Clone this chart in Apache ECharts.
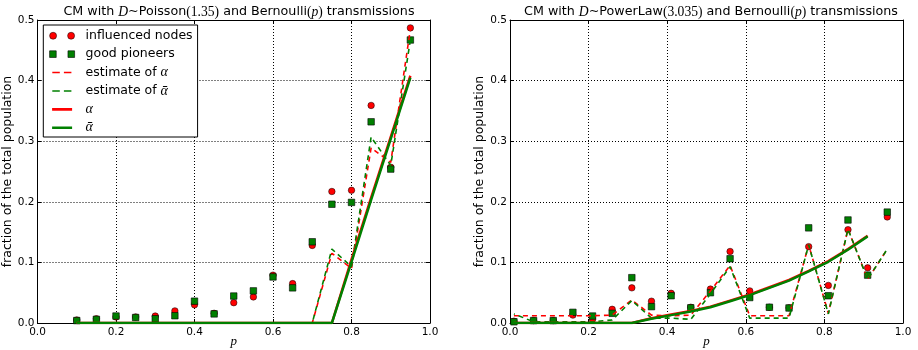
<!DOCTYPE html>
<html><head><meta charset="utf-8">
<script src="https://cdn.jsdelivr.net/npm/echarts@6/dist/echarts.min.js"></script>
<style>html,body{margin:0;padding:0;background:#fff}#c{width:918px;height:350px}</style>
</head><body><div id="c"></div>
<script>
// ---------- data ----------
const pLeft = [0.10,0.15,0.20,0.25,0.30,0.35,0.40,0.45,0.50,0.55,0.60,0.65,0.70,0.75,0.80,0.85,0.90,0.95];
const influencedLeft = [0.005,0.007,0.010,0.010,0.0115,0.020,0.030,0.016,0.0335,0.043,0.079,0.065,0.128,0.217,0.219,0.359,0.257,0.487];
const pioneersLeft   = [0.004,0.006,0.0115,0.009,0.007,0.012,0.036,0.015,0.0445,0.053,0.076,0.058,0.134,0.196,0.199,0.332,0.254,0.467];
const estAlphaLeft    = [0,0,0,0,0,0,0,0,0,0,0,0,0,0.115,0.090,0.289,0.265,0.485];
const estAlphaBarLeft = [0,0,0,0,0,0,0,0,0,0,0,0,0,0.122,0.093,0.307,0.260,0.467];
const alphaLeft    = [0,0,0,0,0,0,0,0,0,0,0,0,0,0,0.105,0.207,0.307,0.408];
const alphaBarLeft = [0,0,0,0,0,0,0,0,0,0,0,0,0,0,0.101,0.203,0.304,0.405];

const pRight = [0.01,0.06,0.11,0.16,0.21,0.26,0.31,0.36,0.41,0.46,0.51,0.56,0.61,0.66,0.71,0.76,0.81,0.86,0.91,0.96];
const influencedRight = [0.003,0.004,0.004,0.013,0.006,0.0226,0.058,0.036,0.049,0.026,0.056,0.118,0.053,0.026,0.025,0.126,0.062,0.154,0.091,0.175];
const pioneersRight   = [0.002,0.004,0.004,0.0176,0.0115,0.016,0.0748,0.027,0.045,0.025,0.050,0.106,0.042,0.026,0.0248,0.157,0.045,0.170,0.079,0.183];
const estAlphaRight    = [0.012,0.012,0.012,0.012,0.012,0.013,0.038,0.013,0.012,0.013,0.053,0.095,0.012,0.012,0.012,0.129,0.016,0.155,0.072,0.122];
const estAlphaBarRight = [0.015,0.002,0.002,0.002,0.002,0.005,0.037,0.008,0.008,0.006,0.048,0.093,0.008,0.008,0.008,0.129,0.015,0.155,0.072,0.122];
const alphaRight    = [0,0,0,0,0,0,0,0.008,0.014,0.020,0.027,0.037,0.047,0.059,0.071,0.086,0.102,0.122,0.144];
const alphaBarRight = [0,0,0,0,0,0,0,0.007,0.013,0.019,0.026,0.036,0.046,0.058,0.070,0.085,0.101,0.121,0.143];

const xTicks = [0.0,0.2,0.4,0.6,0.8,1.0];
const yTicks = [0.0,0.1,0.2,0.3,0.4,0.5];
const names = ['influenced nodes','good pioneers','estimate of α','estimate of ᾱ','α','ᾱ'];

// ---------- helpers ----------
const RED = '#ff0000', GREEN = '#008000';
const sans = 'DejaVu Sans';
const serif = 'Liberation Serif';
function pairs(xs, ys){ return ys.map((v,i)=>[xs[i], v]); }

function axesFor(g){
  const common = {min:0, max:1, interval:0.2, gridIndex:g,
    axisLine:{show:true, onZero:false, lineStyle:{color:'#000', width:1}},
    axisTick:{show:true, inside:true, length:4, lineStyle:{color:'#000'}}};
  const x = [
    Object.assign({}, common, {type:'value', position:'bottom',
      axisLabel:{show:true, color:'#000', fontFamily:sans, fontSize:10.5, margin:4,
        showMinLabel:true, showMaxLabel:true, formatter:v=>v.toFixed(1)},
      splitLine:{show:true, lineStyle:{color:'#000', type:[1,2], width:1}},
      name:'p', nameLocation:'middle', nameGap:12, nameMoveOverlap:false,
      nameTextStyle:{fontFamily:serif, fontStyle:'italic', fontSize:13, color:'#000'}}),
    Object.assign({}, common, {type:'value', position:'top', axisLabel:{show:false}, splitLine:{show:false}})
  ];
  const ycommon = Object.assign({}, common, {max:0.5, interval:0.1});
  const y = [
    Object.assign({}, ycommon, {type:'value', position:'left',
      axisLabel:{show:true, color:'#000', fontFamily:sans, fontSize:10.5, margin:3,
        showMinLabel:true, showMaxLabel:true, formatter:v=>v.toFixed(1)},
      splitLine:{show:true, lineStyle:{color:'#000', type:[1,2], width:1}},
      name:'fraction of the total population', nameLocation:'middle', nameGap:22,
      nameTextStyle:{fontFamily:sans, fontSize:12.5, color:'#000'}}),
    Object.assign({}, ycommon, {type:'value', position:'right', axisLabel:{show:false}, splitLine:{show:false}})
  ];
  return {x, y};
}

const a0 = axesFor(0), a1 = axesFor(1);

function seriesFor(g, xs, xsA, inf, pio, estA, estB, al, alb){
  const xi = g*2, yi = g*2;
  return [
    {name:names[0], type:'scatter', xAxisIndex:xi, yAxisIndex:yi, symbol:'circle', symbolSize:6.5,
     itemStyle:{color:RED, borderColor:'#000', borderWidth:0.5, opacity:1}, data:pairs(xs, inf), z:2},
    {name:names[1], type:'scatter', xAxisIndex:xi, yAxisIndex:yi, symbol:'rect', symbolSize:6.5,
     itemStyle:{color:GREEN, borderColor:'#000', borderWidth:0.6, opacity:1}, data:pairs(xs, pio), z:3},
    {name:names[2], type:'line', xAxisIndex:xi, yAxisIndex:yi, showSymbol:false, symbol:'none',
     lineStyle:{color:RED, width:1.6, type:[5,4]}, itemStyle:{color:RED}, data:pairs(xs, estA), z:4, animation:false},
    {name:names[3], type:'line', xAxisIndex:xi, yAxisIndex:yi, showSymbol:false, symbol:'none',
     lineStyle:{color:GREEN, width:1.6, type:[5,4], dashOffset:4}, itemStyle:{color:GREEN}, data:pairs(xs, estB), z:5, animation:false},
    {name:names[4], type:'line', xAxisIndex:xi, yAxisIndex:yi, showSymbol:false, symbol:'none',
     lineStyle:{color:RED, width:2.5}, itemStyle:{color:RED}, data:pairs(xsA, al), z:6, animation:false},
    {name:names[5], type:'line', xAxisIndex:xi, yAxisIndex:yi, showSymbol:false, symbol:'none',
     lineStyle:{color:GREEN, width:2.5}, itemStyle:{color:GREEN}, data:pairs(xsA, alb), z:7, animation:false}
  ];
}

const circlesIcon = 'path://M0,3.5a3.5,3.5 0 1,0 7,0a3.5,3.5 0 1,0 -7,0zM18,3.5a3.5,3.5 0 1,0 7,0a3.5,3.5 0 1,0 -7,0z';
const squaresIcon = 'path://M0.25,0.25h6.5v6.5h-6.5zM18.25,0.25h6.5v6.5h-6.5z';
const dashIcon = 'path://M0,0L25,0M0,7L25,7M2.7,2.7h7.5v1.6h-7.5zM14.3,2.7h7.5v1.6h-7.5z';
const solidIcon = 'path://M0,0L25,0M0,7L25,7M2.5,2.2h20v2.6h-20z';

const titleRich = {
  a:{fontFamily:sans, fontSize:12.7, fontWeight:'normal', color:'#000'},
  i:{fontFamily:serif, fontStyle:'italic', fontWeight:'normal', fontSize:13.6, color:'#000'},
  m:{fontFamily:serif, fontWeight:'normal', fontSize:13.6, color:'#000'}
};
const legendRich = {
  a:{fontFamily:sans, fontSize:12.5, color:'#000'},
  i:{fontFamily:serif, fontStyle:'italic', fontSize:14, color:'#000'}
};

const chart = echarts.init(document.getElementById('c'), null, {renderer:'canvas'});
chart.setOption({
  animation:false,
  backgroundColor:'#fff',
  title:[
    {text:'{a|CM with }{i|D}{a|∼Poisson}{m|(1.35)}{a| and Bernoulli}{m|(}{i|p}{m|)}{a| transmissions}',
     left:234, top:0, textAlign:'center', textStyle:{fontWeight:'normal', rich:titleRich}},
    {text:'{a|CM with }{i|D}{a|∼PowerLaw}{m|(3.035)}{a| and Bernoulli}{m|(}{i|p}{m|)}{a| transmissions}',
     left:706, top:0, textAlign:'center', textStyle:{fontWeight:'normal', rich:titleRich}}
  ],
  grid:[
    {left:37.5, top:20, width:392.5, height:303, outerBoundsMode:'none', containLabel:false},
    {left:510, top:20, width:393, height:303, outerBoundsMode:'none', containLabel:false}
  ],
  xAxis:[a0.x[0], a0.x[1], a1.x[0], a1.x[1]].map((a,i)=>Object.assign({}, a, {gridIndex: i<2?0:1})),
  yAxis:[a0.y[0], a0.y[1], a1.y[0], a1.y[1]].map((a,i)=>Object.assign({}, a, {gridIndex: i<2?0:1})),
  legend:{
    left:43.3, top:25, orient:'vertical',
    padding:[3.5,5,2,6], itemGap:3.9, itemWidth:25, itemHeight:8,
    backgroundColor:'#fff', borderColor:'#000', borderWidth:1, borderRadius:0,
    selectedMode:false,
    textStyle:{fontFamily:sans, fontSize:12.5, color:'#000', lineHeight:14.5, padding:[0,0,0,6], rich:legendRich},
    formatter:function(n){
      if(n==='estimate of α') return '{a|estimate of }{i|α}';
      if(n==='estimate of ᾱ') return '{a|estimate of }{i|ᾱ}';
      if(n==='α') return '{i|α}';
      if(n==='ᾱ') return '{i|ᾱ}';
      return '{a|'+n+'}';
    },
    data:[
      {name:names[0], icon:circlesIcon, itemStyle:{color:RED, borderColor:'#000', borderWidth:0.5}},
      {name:names[1], icon:squaresIcon, itemStyle:{color:GREEN, borderColor:'#000', borderWidth:0.6}},
      {name:names[2], icon:dashIcon, itemStyle:{color:RED, borderWidth:0}, lineStyle:{width:0}},
      {name:names[3], icon:dashIcon, itemStyle:{color:GREEN, borderWidth:0}, lineStyle:{width:0}},
      {name:names[4], icon:solidIcon, itemStyle:{color:RED, borderWidth:0}, lineStyle:{width:0}},
      {name:names[5], icon:solidIcon, itemStyle:{color:GREEN, borderWidth:0}, lineStyle:{width:0}}
    ]
  },
  series:[].concat(
    seriesFor(0, pLeft, pLeft, influencedLeft, pioneersLeft, estAlphaLeft, estAlphaBarLeft, alphaLeft, alphaBarLeft),
    seriesFor(1, pRight, pRight.slice(0, alphaRight.length), influencedRight, pioneersRight, estAlphaRight, estAlphaBarRight, alphaRight, alphaBarRight)
  )
});
</script></body></html>
